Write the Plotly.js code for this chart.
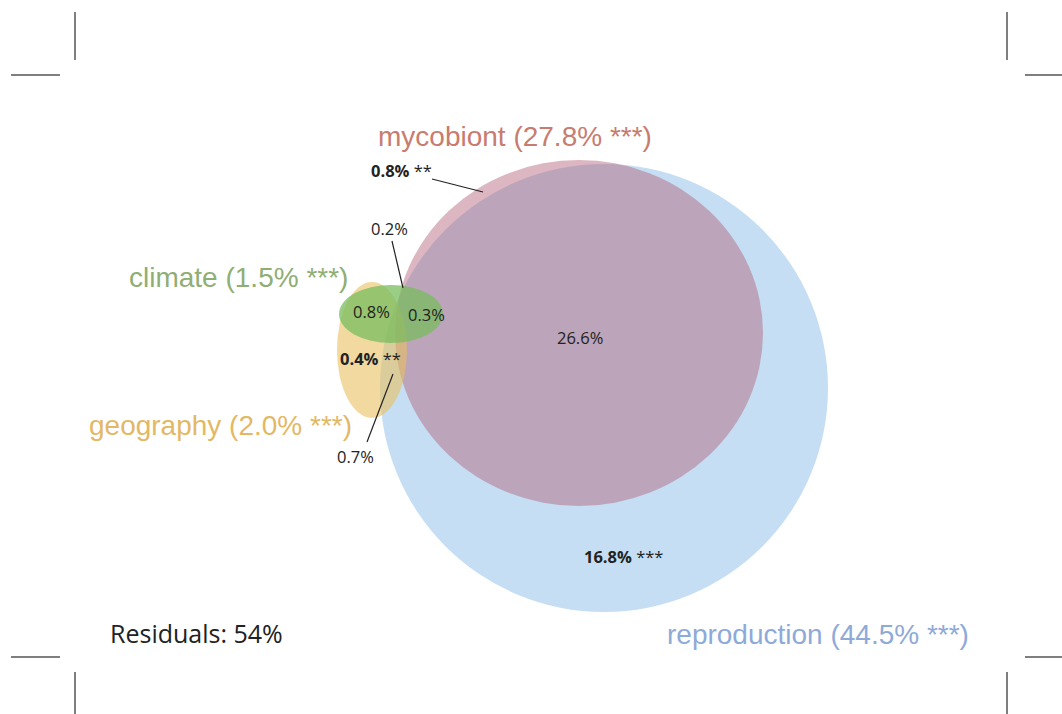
<!DOCTYPE html>
<html>
<head>
<meta charset="utf-8">
<script src="https://cdn.plot.ly/plotly-3.0.1.min.js"></script>
<style>html,body{margin:0;padding:0;background:#fff;}#chart{width:1062px;height:714px;}</style>
</head>
<body>
<div id="chart"></div>
<script>
// ---- data ----
var setNames = ["reproduction", "mycobiont", "geography", "climate"];
var setTotals = ["44.5%", "27.8%", "2.0%", "1.5%"];
var setSignif = ["***", "***", "***", "***"];
var fractionLabels = ["26.6%", "16.8%", "0.8%", "0.2%", "0.8%", "0.3%", "0.4%", "0.7%"];
var fractionSignif = ["", "***", "**", "", "", "", "**", ""];
var fractionBold = [false, true, true, false, false, false, true, false];
var residualLabel = "Residuals";
var residualValue = "54%";

// ---- geometry (page pixel units) ----
var ellipses = [
  {cx: 604, cy: 388, rx: 224, ry: 224, color: "rgb(197,222,243)", op: 1.0},
  {cx: 579, cy: 333, rx: 184, ry: 173, color: "rgb(178,96,120)", op: 0.46},
  {cx: 372, cy: 350, rx: 35, ry: 68, color: "rgb(232,192,97)", op: 0.6},
  {cx: 391, cy: 314, rx: 52, ry: 29, color: "rgb(120,188,93)", op: 0.75}
];
var setLabelPos = [
  {x: 818, y: 634, color: "#8eaad8"},
  {x: 515, y: 136, color: "#c87c70"},
  {x: 220, y: 425, color: "#e3b865"},
  {x: 238, y: 277, color: "#8fae74"}
];
var fracPos = [
  {x: 580, y: 337}, {x: 623, y: 556}, {x: 401, y: 170}, {x: 389, y: 228},
  {x: 371, y: 311}, {x: 426, y: 314}, {x: 370, y: 358}, {x: 355, y: 456}
];
var leaders = [
  {x0: 432, y0: 179, x1: 483, y1: 192},
  {x0: 392, y0: 241, x1: 403, y1: 288},
  {x0: 393, y0: 374, x1: 367, y1: 442}
];

var shapes = [];
ellipses.forEach(function (e) {
  shapes.push({type: "circle", xref: "x", yref: "y",
    x0: e.cx - e.rx, x1: e.cx + e.rx, y0: e.cy - e.ry, y1: e.cy + e.ry,
    fillcolor: e.color, opacity: e.op, line: {width: 0}, layer: "below"});
});
leaders.forEach(function (l) {
  shapes.push({type: "line", xref: "x", yref: "y", x0: l.x0, y0: l.y0, x1: l.x1, y1: l.y1,
    line: {color: "#222", width: 1.2}});
});
// crop marks
var cm = [
  [75, 12, 75, 60], [11, 75, 60, 75],
  [1007, 12, 1007, 60], [1025, 75, 1062, 75],
  [75, 672, 75, 714], [11, 657, 60, 657],
  [1007, 672, 1007, 714], [1025, 657, 1062, 657]
];
cm.forEach(function (c) {
  shapes.push({type: "line", xref: "x", yref: "y", x0: c[0], y0: c[1], x1: c[2], y1: c[3],
    line: {color: "#555", width: 1.5}});
});

var ann = [];
setNames.forEach(function (n, i) {
  ann.push({x: setLabelPos[i].x, y: setLabelPos[i].y, xref: "x", yref: "y", showarrow: false,
    text: n + " (" + setTotals[i] + " " + setSignif[i] + ")",
    font: {family: "Liberation Sans, Arial, sans-serif", size: 28, color: setLabelPos[i].color},
    xanchor: "center", yanchor: "middle"});
});
fractionLabels.forEach(function (t, i) {
  var txt = fractionBold[i] ? "<b>" + t + "</b>" : t;
  if (fractionSignif[i]) txt += " " + fractionSignif[i];
  ann.push({x: fracPos[i].x, y: fracPos[i].y, xref: "x", yref: "y", showarrow: false,
    text: txt, font: {family: "Open Sans, Noto Sans, sans-serif", size: 16.5, color: "#222"},
    xanchor: "center", yanchor: "middle"});
});
ann.push({x: 108, y: 633, xref: "x", yref: "y", showarrow: false,
  text: residualLabel + ": " + residualValue,
  font: {family: "Open Sans, Noto Sans, sans-serif", size: 25, color: "#222"},
  xanchor: "left", yanchor: "middle"});

var layout = {
  width: 1062, height: 714,
  margin: {l: 0, r: 0, t: 0, b: 0},
  paper_bgcolor: "#fff", plot_bgcolor: "#fff",
  xaxis: {range: [0, 1062], visible: false, fixedrange: true},
  yaxis: {range: [714, 0], visible: false, fixedrange: true},
  shapes: shapes, annotations: ann, showlegend: false
};
Plotly.newPlot("chart", [{x: [], y: [], type: "scatter", mode: "markers"}], layout, {displayModeBar: false, staticPlot: true});
</script>
</body>
</html>
